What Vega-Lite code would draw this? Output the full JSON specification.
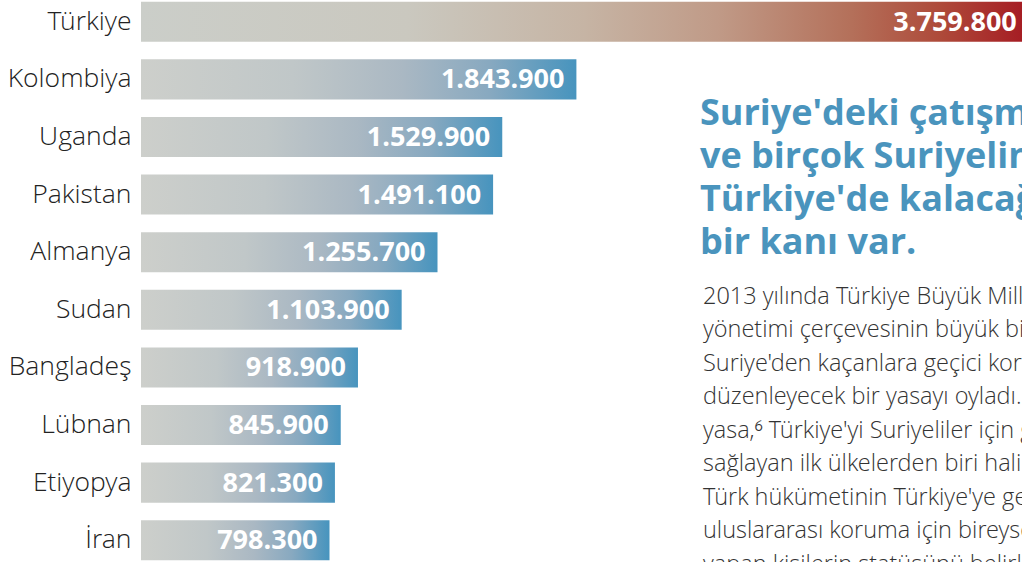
{
  "$schema": "https://vega.github.io/schema/vega-lite/v6.json",
  "autosize": "none",
  "width": 881,
  "height": 562,
  "padding": {"left": 141, "top": 0, "right": 0, "bottom": 0},
  "background": "white",
  "config": {
    "view": {"stroke": null},
    "locale": {"number": {"decimal": ",", "thousands": ".", "grouping": [3], "currency": ["", ""]}}
  },
  "datasets": {
    "ulkeler": [
      {"ulke": "Türkiye", "sayi": 3759800},
      {"ulke": "Kolombiya", "sayi": 1843900},
      {"ulke": "Uganda", "sayi": 1529900},
      {"ulke": "Pakistan", "sayi": 1491100},
      {"ulke": "Almanya", "sayi": 1255700},
      {"ulke": "Sudan", "sayi": 1103900},
      {"ulke": "Bangladeş", "sayi": 918900},
      {"ulke": "Lübnan", "sayi": 845900},
      {"ulke": "Etiyopya", "sayi": 821300},
      {"ulke": "İran", "sayi": 798300}
    ],
    "notlar": [
      {"tur": "baslik", "ulke": "Kolombiya", "konum": 2367000,
       "metin": ["Suriye'deki çatışma sona erse bile", "ve birçok Suriyelinin kalıcı olarak", "Türkiye'de kalacağına dair genel", "bir kanı var."]},
      {"tur": "govde", "ulke": "Sudan", "konum": 2380000,
       "metin": [
          "2013 yılında Türkiye Büyük Millet Meclisi, göç",
          "yönetimi çerçevesinin büyük bir kısmını ve",
          "Suriye'den kaçanlara geçici koruma statüsünü",
          "düzenleyecek bir yasayı oyladı. Bu",
          "yasa,⁶ Türkiye'yi Suriyeliler için geçici koruma",
          "sağlayan ilk ülkelerden biri haline getirdi.",
          "Türk hükümetinin Türkiye'ye gelen",
          "uluslararası koruma için bireysel başvuru",
          "yapan kişilerin statüsünü belirleme yetkisi"
       ]}
    ]
  },
  "data": {"name": "ulkeler"},
  "layer": [
    {
      "transform": [{"filter": "datum.ulke !== 'Türkiye'"}],
      "mark": {
        "type": "bar",
        "fill": {
          "gradient": "linear", "x1": 0, "y1": 0, "x2": 1, "y2": 0,
          "stops": [
            {"offset": 0, "color": "#cdcfcb"},
            {"offset": 0.35, "color": "#c0c7c8"},
            {"offset": 0.6, "color": "#aab8c3"},
            {"offset": 0.8, "color": "#88a9c0"},
            {"offset": 1, "color": "#4794be"}
          ]
        }
      },
      "encoding": {
        "y": {"field": "ulke", "type": "nominal"},
        "x": {"field": "sayi", "type": "quantitative"}
      }
    },
    {
      "transform": [{"filter": "datum.ulke === 'Türkiye'"}],
      "mark": {
        "type": "bar",
        "fill": {
          "gradient": "linear", "x1": 0, "y1": 0, "x2": 1, "y2": 0,
          "stops": [
            {"offset": 0, "color": "#cbcec9"},
            {"offset": 0.3, "color": "#cac8bf"},
            {"offset": 0.5, "color": "#c6b4a4"},
            {"offset": 0.65, "color": "#c09a87"},
            {"offset": 0.8, "color": "#b4705a"},
            {"offset": 0.9, "color": "#ae4a3a"},
            {"offset": 1, "color": "#a51a22"}
          ]
        }
      },
      "encoding": {
        "y": {"field": "ulke", "type": "nominal"},
        "x": {"field": "sayi", "type": "quantitative"}
      }
    },
    {
      "mark": {"type": "text", "align": "right", "baseline": "middle", "dx": -12, "dy": 1,
               "font": "Open Sans", "fontWeight": "bold", "fontSize": 27, "color": "white"},
      "encoding": {
        "y": {"field": "ulke", "type": "nominal"},
        "x": {"field": "sayi", "type": "quantitative"},
        "text": {"field": "sayi", "type": "quantitative", "format": ",d"}
      }
    },
    {
      "data": {"name": "notlar"},
      "transform": [{"filter": "datum.tur === 'baslik'"}],
      "mark": {
        "type": "text", "align": "left", "baseline": "alphabetic",
        "font": "Open Sans", "fontWeight": "bold", "fontSize": 36, "lineHeight": 43,
        "color": "#4a94bd", "dy": 46
      },
      "encoding": {
        "x": {"field": "konum", "type": "quantitative"},
        "y": {"field": "ulke", "type": "nominal"},
        "text": {"field": "metin", "type": "nominal"}
      }
    },
    {
      "data": {"name": "notlar"},
      "transform": [{"filter": "datum.tur === 'govde'"}],
      "mark": {
        "type": "text", "align": "left", "baseline": "alphabetic",
        "font": "'Open Sans Light', 'Open Sans', 'Noto Sans'", "fontWeight": 300, "fontSize": 23.5, "lineHeight": 33.5,
        "color": "#333333", "dy": -6
      },
      "encoding": {
        "x": {"field": "konum", "type": "quantitative"},
        "y": {"field": "ulke", "type": "nominal"},
        "text": {"field": "metin", "type": "nominal"}
      }
    }
  ],
  "resolve": {"scale": {"x": "shared", "y": "shared"}},
  "encoding": {
    "y": {
      "field": "ulke", "type": "nominal",
      "scale": {"domain": ["Türkiye", "Kolombiya", "Uganda", "Pakistan", "Almanya", "Sudan", "Bangladeş", "Lübnan", "Etiyopya", "İran"],
                "paddingInner": 0.305, "paddingOuter": 0.03},
      "axis": {"title": null, "domain": false, "ticks": false, "labelPadding": 10,
               "labelFont": "'Open Sans Light', 'Open Sans'", "labelFontWeight": 300, "labelFontSize": 26.5, "labelColor": "#222222"}
    },
    "x": {
      "field": "sayi", "type": "quantitative",
      "scale": {"domain": [0, 3731000], "nice": false, "zero": true},
      "axis": null
    }
  }
}
